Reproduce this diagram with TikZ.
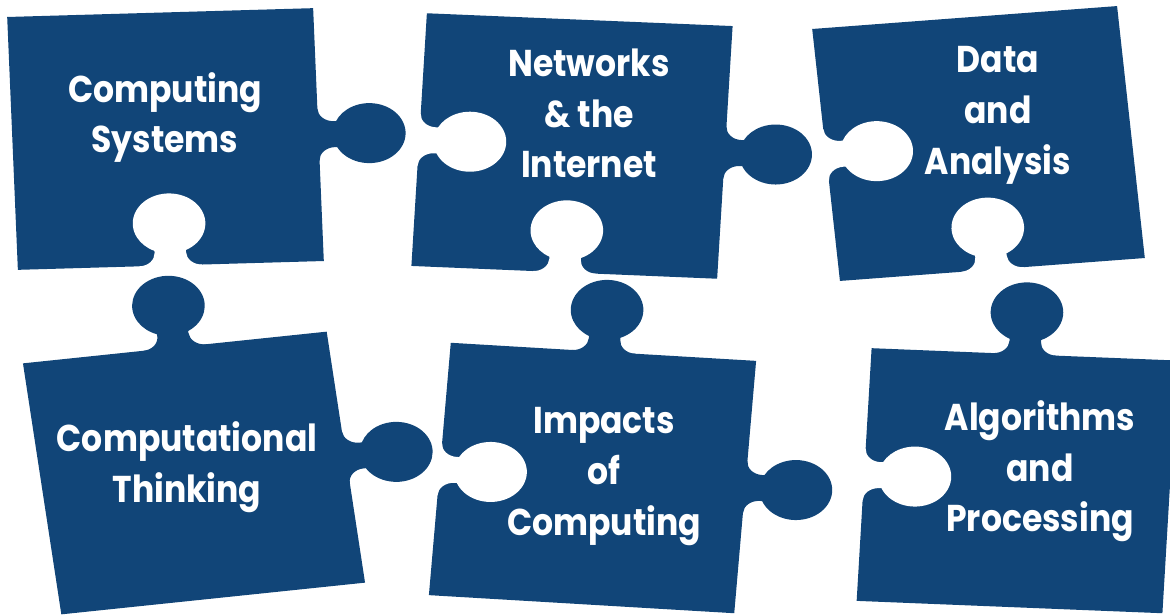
\documentclass[tikz,border=0pt]{standalone}
\usepackage{fontspec}
\setmainfont{Poppins}[FakeStretch=0.885]
\usepackage{tikz}
\definecolor{puzzleblue}{RGB}{17,69,120}

% one knob (or, in white, one socket) on the edge y=0, pointing to +y
\newcommand{\puzzlelobe}[1]{\fill[#1] (-26,-2) -- (-26,0) arc[start angle=-90,end angle=0,radius=13] -- (-13,15)
	arc[start angle=244.3,end angle=-64.3,radius=30] -- (13,13) arc[start angle=180,end angle=270,radius=13] -- (26,-2) -- cycle;}

\begin{document}
\begin{tikzpicture}[x=0.75pt,y=-0.75pt,
	bluepiece/.style={fill=puzzleblue},
	holepiece/.style={fill=white},
	titletext/.style={text=white, font=\fontsize{28}{38}\selectfont\bfseries, align=center},
	]
	\useasboundingbox (0,0) rectangle (1170,614);
	\clip (0,0) rectangle (1170,614);

	%Pieces
	\begin{scope}[shift={(165.5,139)},xscale=1.21,rotate=2]
		\fill[bluepiece] (-126.5,-126.5) -- (126.5,-126.5) -- (126.5,126.5) -- (-126.5,126.5) -- cycle;
		\puzzlelobe{bluepiece,shift={(126.5,0)},rotate=90}
		\puzzlelobe{holepiece,shift={(0,126.5)},rotate=180}
	\end{scope}
	\begin{scope}[shift={(572,146)},xscale=1.21,rotate=-2.9]
		\fill[bluepiece] (-126.5,-126.5) -- (126.5,-126.5) -- (126.5,126.5) -- (-126.5,126.5) -- cycle;
		\puzzlelobe{bluepiece,shift={(126.5,0)},rotate=90}
		\puzzlelobe{holepiece,shift={(-126.5,0)},rotate=90}
		\puzzlelobe{holepiece,shift={(0,126.5)},rotate=180}
	\end{scope}
	\begin{scope}[shift={(978.5,143.5)},xscale=1.21,rotate=5.2]
		\fill[bluepiece] (-126.5,-126.5) -- (126.5,-126.5) -- (126.5,126.5) -- (-126.5,126.5) -- cycle;
		\puzzlelobe{holepiece,shift={(-126.5,0)},rotate=90}
		\puzzlelobe{holepiece,shift={(0,126.5)},rotate=180}
	\end{scope}
	\begin{scope}[shift={(194,473)},xscale=1.21,rotate=7.2]
		\fill[bluepiece] (-126.5,-126.5) -- (126.5,-126.5) -- (126.5,126.5) -- (-126.5,126.5) -- cycle;
		\puzzlelobe{bluepiece,shift={(0,-126.5)},rotate=180}
		\puzzlelobe{bluepiece,shift={(126.5,0)},rotate=90}
	\end{scope}
	\begin{scope}[shift={(592.5,478)},xscale=1.21,rotate=-4.1]
		\fill[bluepiece] (-126.5,-126.5) -- (126.5,-126.5) -- (126.5,126.5) -- (-126.5,126.5) -- cycle;
		\puzzlelobe{bluepiece,shift={(0,-126.5)},rotate=180}
		\puzzlelobe{bluepiece,shift={(126.5,0)},rotate=90}
		\puzzlelobe{holepiece,shift={(-126.5,0)},rotate=90}
	\end{scope}
	\begin{scope}[shift={(1017,480.7)},xscale=1.21,rotate=-2.8]
		\fill[bluepiece] (-126.5,-126.5) -- (126.5,-126.5) -- (126.5,126.5) -- (-126.5,126.5) -- cycle;
		\puzzlelobe{bluepiece,shift={(0,-126.5)},rotate=180}
		\puzzlelobe{holepiece,shift={(-126.5,0)},rotate=90}
	\end{scope}

	%Texts
	\node[titletext] (cs) at (165,117.5) {Computing\\Systems};
	\node[titletext] (nti) at (589,113.5) {Networks\\\& the\\Internet};
	\node[titletext] (da) at (998,115.5) {Data\\and\\Analysis};
	\node[titletext] (ct) at (187,467.5) {Computational\\Thinking};
	\node[titletext] (ic) at (604,476.5) {Impacts\\of\\Computing};
	\node[titletext] (ap) at (1040,471.5) {Algorithms\\and\\Processing};
\end{tikzpicture}
\end{document}
